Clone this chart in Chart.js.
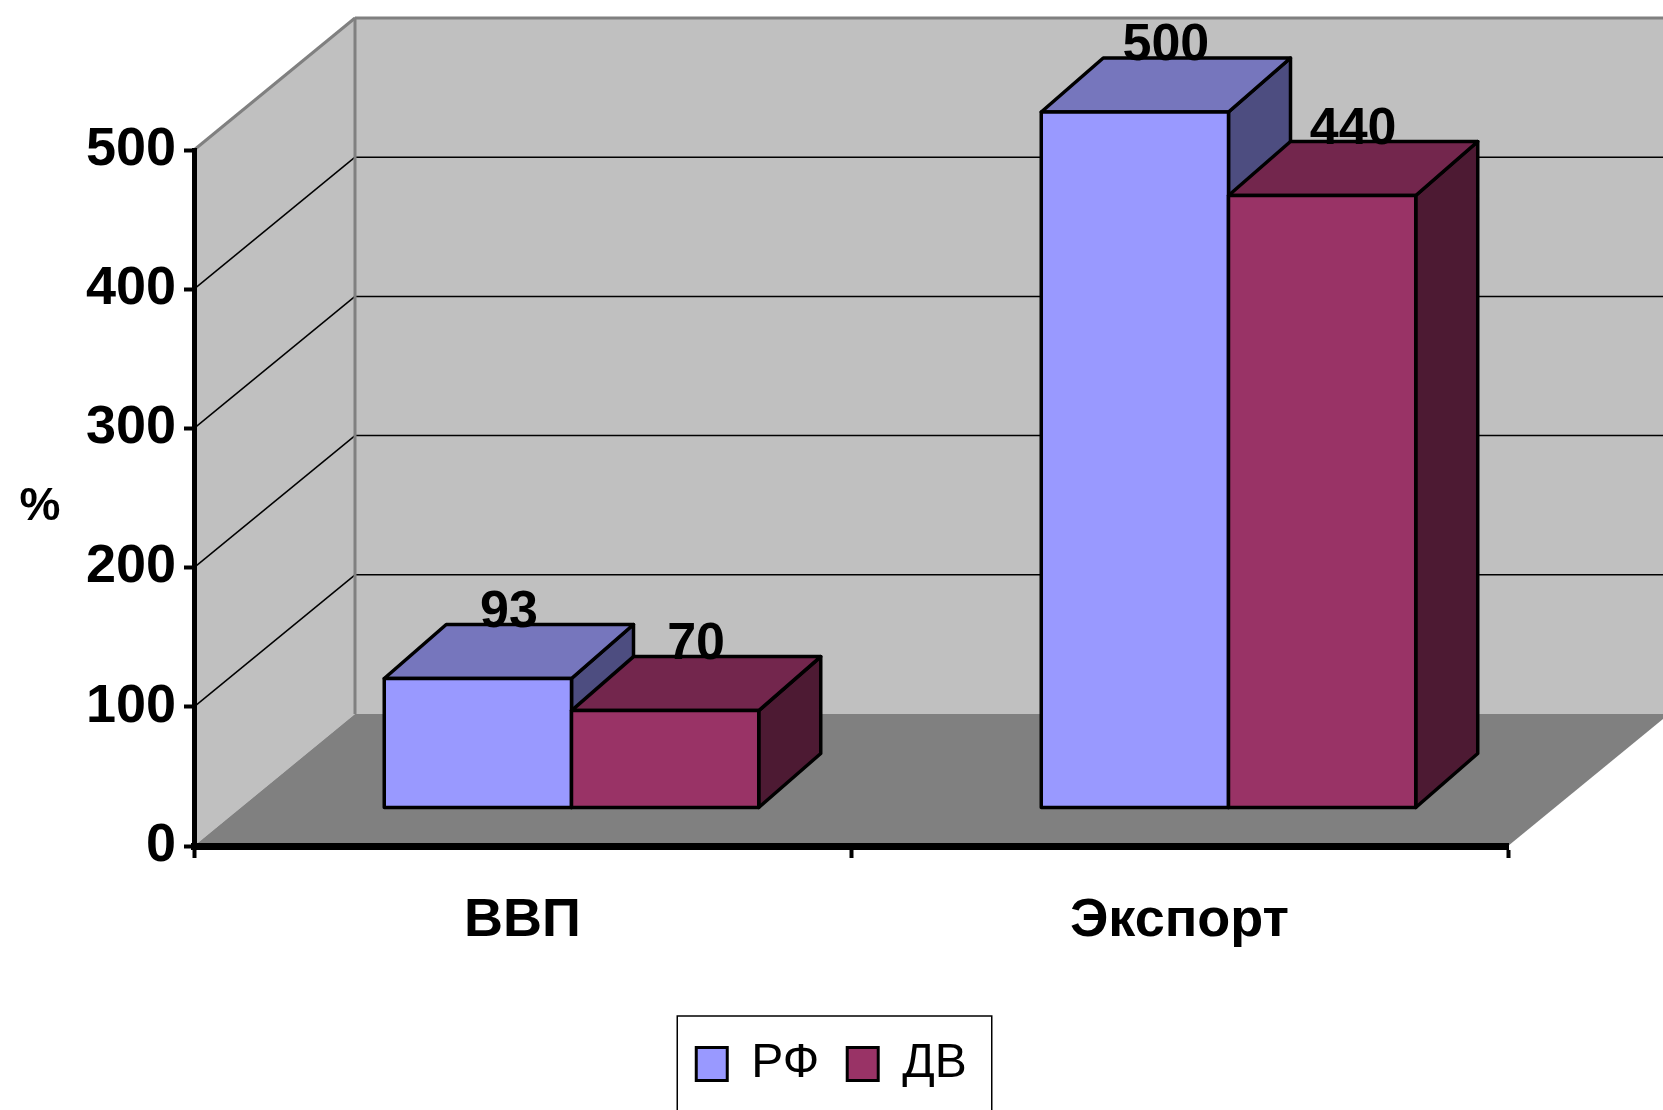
<!DOCTYPE html>
<html>
<head>
<meta charset="utf-8">
<script src="https://cdn.jsdelivr.net/npm/chart.js@4/dist/chart.umd.min.js"></script>
<style>
  html, body { margin: 0; padding: 0; background: #fff; }
</style>
</head>
<body>
<canvas id="chart" width="1663" height="1110"></canvas>
<script>
const categories = ['ВВП', 'Экспорт'];
const seriesNames = ['РФ', 'ДВ'];
const rfValues = [93, 500];
const dvValues = [70, 440];
const yTicks = [0, 100, 200, 300, 400, 500];

const FRONT = ['#9999ff', '#993366'];
const TOP = ['#7676bd', '#73264d'];
const SIDE = ['#4d4d80', '#4d1a33'];

// fake 3D: depth of the walls, where bars sit in it, and bar depth
const WALL = { dx: 161, dy: -132 };
const BAR_OFF = { dx: 49, dy: -38 };
const BAR = { dx: 62, dy: -54 };

const FONT = "'Liberation Sans', Arial, sans-serif";

function poly(ctx, pts, fill, stroke, lw) {
  ctx.beginPath();
  ctx.moveTo(pts[0][0], pts[0][1]);
  for (let i = 1; i < pts.length; i++) ctx.lineTo(pts[i][0], pts[i][1]);
  ctx.closePath();
  if (fill) { ctx.fillStyle = fill; ctx.fill(); }
  if (stroke) { ctx.strokeStyle = stroke; ctx.lineWidth = lw; ctx.lineJoin = 'round'; ctx.stroke(); }
}

function line(ctx, x1, y1, x2, y2) {
  ctx.beginPath();
  ctx.moveTo(x1, y1);
  ctx.lineTo(x2, y2);
  ctx.stroke();
}

const scene3d = {
  id: 'scene3d',
  afterLayout(chart) {
    // legend sits centred on the whole canvas, not on the padded area
    const lg = chart.legend;
    const shift = (chart.width - (lg.left + lg.right)) / 2;
    lg.left += shift;
    lg.right += shift;
  },
  beforeDraw(chart) {
    const { ctx, chartArea: a, scales: { y } } = chart;
    const x0 = a.left, x1 = a.right;
    const yb = y.getPixelForValue(0), yt = y.getPixelForValue(yTicks[yTicks.length - 1]);
    const dx = WALL.dx, dy = WALL.dy;
    ctx.save();
    // back wall + side wall
    poly(ctx, [[x0 + dx, yt + dy], [x1 + dx + 20, yt + dy], [x1 + dx + 20, yb + dy], [x0 + dx, yb + dy]], '#c0c0c0');
    poly(ctx, [[x0, yb], [x0, yt], [x0 + dx, yt + dy], [x0 + dx, yb + dy]], '#c0c0c0');
    // floor
    poly(ctx, [[x0, yb], [x1, yb], [x1 + dx, yb + dy], [x0 + dx, yb + dy]], '#808080');
    // gridlines on both walls
    ctx.strokeStyle = '#000';
    ctx.lineWidth = 1.5;
    yTicks.forEach(v => {
      if (v === 0) return;
      const py = y.getPixelForValue(v);
      line(ctx, x0, py, x0 + dx, py + dy);
      line(ctx, x0 + dx, py + dy, x1 + dx + 20, py + dy);
    });
    // wall edges
    ctx.strokeStyle = '#808080';
    ctx.lineWidth = 3;
    line(ctx, x0, yt, x0 + dx, yt + dy);
    line(ctx, x0 + dx, yt + dy, x1 + dx + 20, yt + dy);
    line(ctx, x0 + dx, yt + dy, x0 + dx, yb + dy);
    ctx.restore();
  },
  beforeDatasetsDraw(chart) {
    const { ctx } = chart;
    ctx.save();
    categories.forEach((c, i) => {
      chart.data.datasets.forEach((ds, d) => {
        const el = chart.getDatasetMeta(d).data[i];
        const L = el.x - el.width / 2 + BAR_OFF.dx, R = el.x + el.width / 2 + BAR_OFF.dx;
        const T = el.y + BAR_OFF.dy, B = el.base + BAR_OFF.dy;
        const k = BAR.dx, h = BAR.dy;
        poly(ctx, [[R, T], [R + k, T + h], [R + k, B + h], [R, B]], SIDE[d], '#000', 3.5);
        poly(ctx, [[L, T], [L + k, T + h], [R + k, T + h], [R, T]], TOP[d], '#000', 3.5);
        poly(ctx, [[L, T], [R, T], [R, B], [L, B]], FRONT[d], '#000', 3.5);
        // value label over the back edge of the top
        ctx.fillStyle = '#000';
        ctx.font = 'bold 52px ' + FONT;
        ctx.textAlign = 'center';
        ctx.textBaseline = 'alphabetic';
        ctx.fillText(String(ds.data[i]), (L + R) / 2 + 31, T + h + 2);
      });
    });
    ctx.restore();
    return false;
  },
  afterDraw(chart) {
    const { ctx } = chart;
    ctx.save();
    // "%" axis caption
    ctx.fillStyle = '#000';
    ctx.font = 'bold 46px ' + FONT;
    ctx.textAlign = 'center';
    ctx.textBaseline = 'middle';
    ctx.fillText('%', 40, 507);
    // frame round the legend
    const hb = chart.legend.legendHitBoxes;
    if (hb && hb.length) {
      const left = Math.min(...hb.map(b => b.left)) - 19;
      const right = Math.max(...hb.map(b => b.left + b.width)) + 25;
      const top = Math.min(...hb.map(b => b.top)) - 24;
      ctx.strokeStyle = '#000';
      ctx.lineWidth = 1.5;
      ctx.strokeRect(left, top, right - left, 1200);
    }
    ctx.restore();
  }
};

new Chart(document.getElementById('chart'), {
  type: 'bar',
  data: {
    labels: categories,
    datasets: [
      { label: seriesNames[0], data: rfValues, backgroundColor: FRONT[0], borderColor: '#000', borderWidth: 3 },
      { label: seriesNames[1], data: dvValues, backgroundColor: FRONT[1], borderColor: '#000', borderWidth: 3 }
    ]
  },
  options: {
    responsive: false,
    animation: false,
    devicePixelRatio: 1,
    categoryPercentage: 0.57,
    barPercentage: 1,
    layout: { padding: { top: 150, right: 155, left: 0, bottom: 12 } },
    plugins: {
      tooltip: { enabled: false },
      legend: {
        position: 'bottom',
        labels: {
          color: '#000',
          font: { family: FONT, size: 48 },
          boxWidth: 31,
          boxHeight: 33,
          padding: 28
        }
      }
    },
    scales: {
      x: {
        grid: { offset: true, drawOnChartArea: false, tickLength: 12, tickWidth: 4, tickColor: '#000' },
        border: { color: '#000', width: 7 },
        ticks: { color: '#000', font: { family: FONT, size: 54, weight: 'bold' }, padding: 31 },
        afterFit: s => { s.height = 166; }
      },
      y: {
        min: 0,
        max: 500,
        ticks: { stepSize: 100, color: '#000', font: { family: FONT, size: 54, weight: 'bold' }, padding: 8 },
        grid: { drawOnChartArea: false, tickLength: 10, tickWidth: 4, tickColor: '#000' },
        border: { color: '#000', width: 5 },
        afterFit: s => { s.width = 194; }
      }
    }
  },
  plugins: [scene3d]
});
</script>
</body>
</html>
